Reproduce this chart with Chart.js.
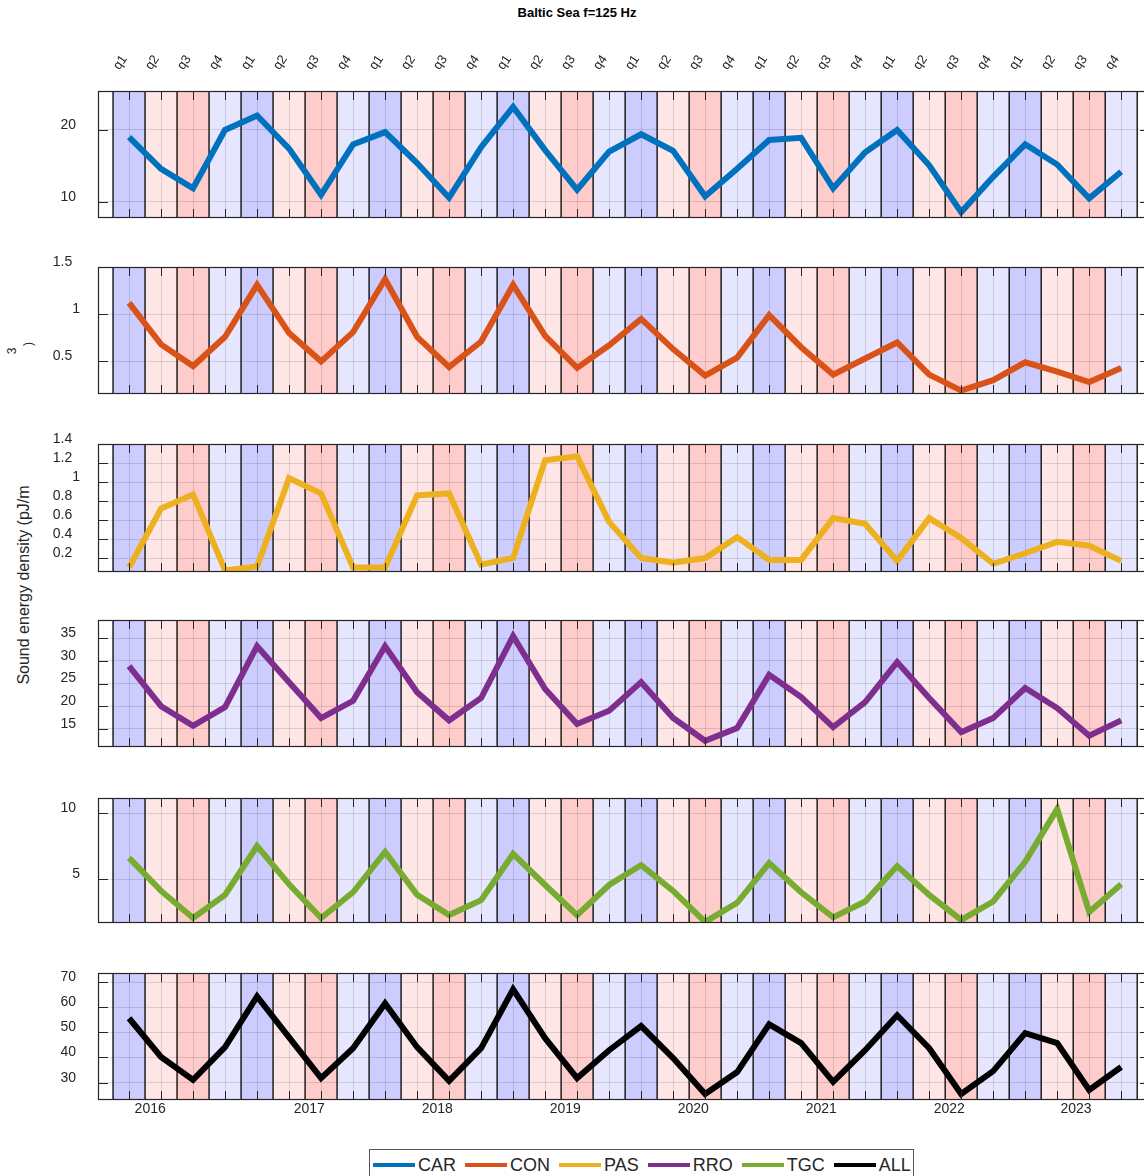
<!DOCTYPE html>
<html><head><meta charset="utf-8">
<script src="https://cdn.jsdelivr.net/npm/chart.js@4.4.1/dist/chart.umd.min.js"></script>
<style>
html,body{margin:0;padding:0;background:#fff;width:1144px;height:1176px;overflow:hidden;position:relative;font-family:"Liberation Sans",Arial,Helvetica,sans-serif;color:#262626}
canvas{position:absolute;left:0}
#title{position:absolute;left:0;width:1154px;top:5px;text-align:center;font-weight:bold;font-size:13px;line-height:16px;color:#000}
.rot{position:absolute;transform:rotate(-90deg);transform-origin:50% 50%;white-space:nowrap;text-align:center;color:#262626}
#legend{position:absolute;left:369px;top:1149px;width:545px;height:32px;border:1px solid #555;box-sizing:border-box;display:flex;align-items:center;padding:0 0 0 3px;gap:9px;background:#fff}
#legend .it{display:flex;align-items:center;font-size:18px;line-height:20px;color:#262626}
#legend .it i{display:inline-block;width:42px;height:4px;margin-right:3px}
</style>
</head><body>
<div id="title">Baltic Sea f=125 Hz</div>
<div class="rot" style="left:-126px;top:575px;width:300px;height:20px;font-size:16px;line-height:20px">Sound energy density (pJ/m</div>
<div class="rot" style="left:2px;top:344px;width:20px;height:14px;font-size:12px;line-height:14px">3</div>
<div class="rot" style="left:18px;top:337px;width:20px;height:14px;font-size:12px;line-height:14px">)</div>
<div id="legend"></div>
<script>
// ---------- data ----------
const yearLabels = ['2016','2017','2018','2019','2020','2021','2022','2023'];
const quarterLabels = yearLabels.flatMap(() => ['q1','q2','q3','q4']);
const yearTickAt = [1.16, 6.13, 10.13, 14.13, 18.13, 22.13, 26.13, 30.09];
const seriesNames = ['CAR','CON','PAS','RRO','TGC','ALL'];

const CAR = [19.0,14.6,11.9,20.0,22.0,17.4,11.0,18.0,19.7,15.4,10.6,17.6,23.2,17.2,11.7,17.0,19.4,17.1,10.8,14.6,18.6,18.9,11.9,16.9,20.0,15.1,8.6,13.5,18.0,15.2,10.5,14.2];
const CON = [1.12,0.68,0.45,0.76,1.31,0.80,0.50,0.81,1.37,0.76,0.44,0.71,1.31,0.77,0.43,0.67,0.95,0.63,0.35,0.54,0.99,0.65,0.36,0.53,0.70,0.36,0.19,0.30,0.49,0.39,0.28,0.43];
const PAS = [0.10,0.72,0.87,0.07,0.11,1.04,0.88,0.10,0.10,0.86,0.88,0.13,0.20,1.23,1.27,0.58,0.20,0.15,0.20,0.42,0.18,0.18,0.62,0.56,0.17,0.62,0.41,0.14,0.25,0.37,0.33,0.17];
const RRO = [28.8,20.0,15.7,19.8,33.2,25.3,17.4,21.2,33.2,23.1,16.9,21.8,35.4,23.8,16.1,19.0,25.3,17.4,12.4,15.2,26.9,22.0,15.4,20.9,29.7,21.8,14.3,17.4,24.0,19.6,13.5,16.9];
const TGC = [6.6,4.1,2.05,3.8,7.5,4.6,2.05,4.0,7.05,3.8,2.27,3.4,6.9,4.55,2.27,4.55,6.06,4.1,1.75,3.2,6.2,4.0,2.1,3.3,5.98,3.8,1.9,3.3,6.3,10.3,2.5,4.6];
const ALL = [55.6,40.2,31.1,44.1,64.3,48.0,31.8,43.7,61.5,44.1,30.7,43.7,67.1,47.7,31.8,42.9,52.5,39.8,25.5,34.2,53.2,45.7,30.3,42.9,56.8,43.7,25.5,34.6,49.7,45.7,27.1,36.2];

const yTicksCAR = [10, 20];
const yTicksCON = [0.5, 1, 1.5];
const yTicksPAS = [0.2, 0.4, 0.6, 0.8, 1, 1.2, 1.4];
const yTicksRRO = [15, 20, 25, 30, 35];
const yTicksTGC = [5, 10];
const yTicksALL = [30, 40, 50, 60, 70];

// ---------- styling / layout ----------
const seriesColors = ['#0072BD','#D95319','#EDB120','#7E2F8E','#77AC30','#000000'];
const bandFill = ['#ccccff','#ffe6e6','#ffcccc','#e6e6ff'];
const FONT = '"Liberation Sans", Arial, Helvetica, sans-serif';
const TXT = '#262626';
const xMin = -0.47, xMax = 32.4;
const CANVAS_W = 1160, AREA_RIGHT_PAD = 10;

const panels = [
  {data: CAR, ticks: yTicksCAR, min: 7.78, max: 25.4, top: 91, bottom: 218},
  {data: CON, ticks: yTicksCON, min: 0.154, max: 1.5, top: 267, bottom: 394},
  {data: PAS, ticks: yTicksPAS, min: 0.053, max: 1.4, top: 444, bottom: 572},
  {data: RRO, ticks: yTicksRRO, min: 11.04, max: 38.96, top: 620, bottom: 747},
  {data: TGC, ticks: yTicksTGC, min: 1.67, max: 11.14, top: 798, bottom: 923},
  {data: ALL, ticks: yTicksALL, min: 23.1, max: 73.6, top: 973, bottom: 1100}
];

const bandPlugin = {
  id: 'bands',
  beforeDraw(chart) {
    const {ctx, chartArea: a} = chart;
    const x = chart.scales.x;
    ctx.save();
    quarterLabels.forEach((q, i) => {
      const x0 = x.getPixelForValue(i), x1 = x.getPixelForValue(i + 1);
      ctx.fillStyle = bandFill[i % 4];
      ctx.fillRect(x0, a.top, x1 - x0, a.bottom - a.top);
    });
    ctx.strokeStyle = '#000';
    ctx.lineWidth = 1.3;
    ctx.beginPath();
    for (let i = 0; i <= quarterLabels.length; i++) {
      const px = x.getPixelForValue(i);
      ctx.moveTo(px, a.top); ctx.lineTo(px, a.bottom);
    }
    ctx.stroke();
    ctx.restore();
  },
  afterDraw(chart) {
    const {ctx, chartArea: a} = chart;
    const x = chart.scales.x, y = chart.scales.y;
    ctx.save();
    ctx.strokeStyle = TXT;
    ctx.lineWidth = 1;
    ctx.beginPath();
    x.ticks.forEach(t => {
      const px = Math.round(x.getPixelForValue(t.value)) + 0.5;
      ctx.moveTo(px, a.top); ctx.lineTo(px, a.top + 9);
      ctx.moveTo(px, a.bottom); ctx.lineTo(px, a.bottom - 9);
    });
    y.ticks.forEach(t => {
      const py = Math.round(y.getPixelForValue(t.value)) + 0.5;
      ctx.moveTo(a.left, py); ctx.lineTo(a.left + 10, py);
      ctx.moveTo(a.right, py); ctx.lineTo(a.right - 10, py);
    });
    ctx.stroke();
    ctx.lineWidth = 1.2;
    ctx.strokeRect(a.left + 0.5, a.top + 0.5, a.right - a.left - 1, a.bottom - a.top - 1);
    ctx.restore();
  }
};

Chart.defaults.font.family = FONT;

function noPad(s) { s.paddingLeft = 0; s.paddingRight = 0; s.paddingTop = 0; s.paddingBottom = 0; }

panels.forEach((p, k) => {
  const isFirst = k === 0, isLast = k === panels.length - 1;
  const padTop = isFirst ? 60 : 14;
  const padBot = isLast ? 26 : 12;
  const h = p.bottom - p.top + padTop + padBot;
  const cv = document.createElement('canvas');
  cv.width = CANVAS_W; cv.height = h;
  cv.style.width = CANVAS_W + 'px'; cv.style.height = h + 'px';
  cv.style.top = (p.top - padTop) + 'px';
  document.body.appendChild(cv);

  const scales = {
    x: {
      type: 'linear', min: xMin, max: xMax, position: 'bottom',
      afterBuildTicks: s => { s.ticks = quarterLabels.map((q, i) => ({value: i + 0.5})); },
      ticks: {display: false},
      grid: {color: 'rgba(38,38,38,0.15)', drawTicks: false, lineWidth: 1},
      border: {display: false},
      afterFit: s => { s.height = 0; noPad(s); }
    },
    y: {
      type: 'linear', min: p.min, max: p.max, position: 'left',
      afterBuildTicks: s => { s.ticks = p.ticks.map(v => ({value: v})); },
      ticks: {
        padding: 18, labelOffset: -5, color: TXT, font: {size: 14, family: FONT},
        callback: v => { const s = String(v); return s + ' '.repeat(s.length - 1); }
      },
      grid: {color: 'rgba(38,38,38,0.15)', drawTicks: false, lineWidth: 1},
      border: {display: false},
      afterFit: s => { s.width = 98; noPad(s); }
    }
  };
  if (isFirst) {
    scales.xq = {
      type: 'linear', min: xMin, max: xMax, position: 'top',
      afterBuildTicks: s => { s.ticks = quarterLabels.map((q, i) => ({value: i + 0.5})); },
      ticks: {
        autoSkip: false, minRotation: 55, maxRotation: 55, padding: 18, labelOffset: 0,
        color: TXT, font: {size: 13, family: FONT},
        callback: (v, i) => quarterLabels[i]
      },
      grid: {display: false, drawTicks: false},
      border: {display: false},
      afterFit: s => { s.height = padTop; noPad(s); }
    };
  }
  if (isLast) {
    scales.xy = {
      type: 'linear', min: xMin, max: xMax, position: 'bottom',
      afterBuildTicks: s => { s.ticks = yearTickAt.map(v => ({value: v})); },
      ticks: {
        autoSkip: false, maxRotation: 0, minRotation: 0, padding: 1,
        color: TXT, font: {size: 14, family: FONT},
        callback: (v, i) => yearLabels[i]
      },
      grid: {display: false, drawTicks: false},
      border: {display: false},
      afterFit: s => { s.height = padBot; noPad(s); }
    };
  }

  new Chart(cv, {
    type: 'line',
    data: {
      datasets: [{
        label: seriesNames[k],
        data: p.data.map((v, i) => ({x: i + 0.5, y: v})),
        borderColor: seriesColors[k],
        backgroundColor: seriesColors[k],
        borderWidth: 6,
        pointRadius: 0,
        tension: 0,
        fill: false,
        borderJoinStyle: 'miter',
        borderCapStyle: 'butt'
      }]
    },
    options: {
      responsive: false, animation: false, devicePixelRatio: 1, events: [],
      layout: {padding: {left: 0, right: AREA_RIGHT_PAD, top: isFirst ? 0 : padTop, bottom: isLast ? 0 : padBot}},
      plugins: {legend: {display: false}, tooltip: {enabled: false}, title: {display: false}},
      scales
    },
    plugins: [bandPlugin]
  });
});

// legend (HTML, built from the same series arrays)
const lg = document.getElementById('legend');
seriesNames.forEach((n, i) => {
  const it = document.createElement('span');
  it.className = 'it';
  const ln = document.createElement('i');
  ln.style.background = seriesColors[i];
  it.appendChild(ln);
  it.appendChild(document.createTextNode(n));
  lg.appendChild(it);
});
</script>
</body></html>
